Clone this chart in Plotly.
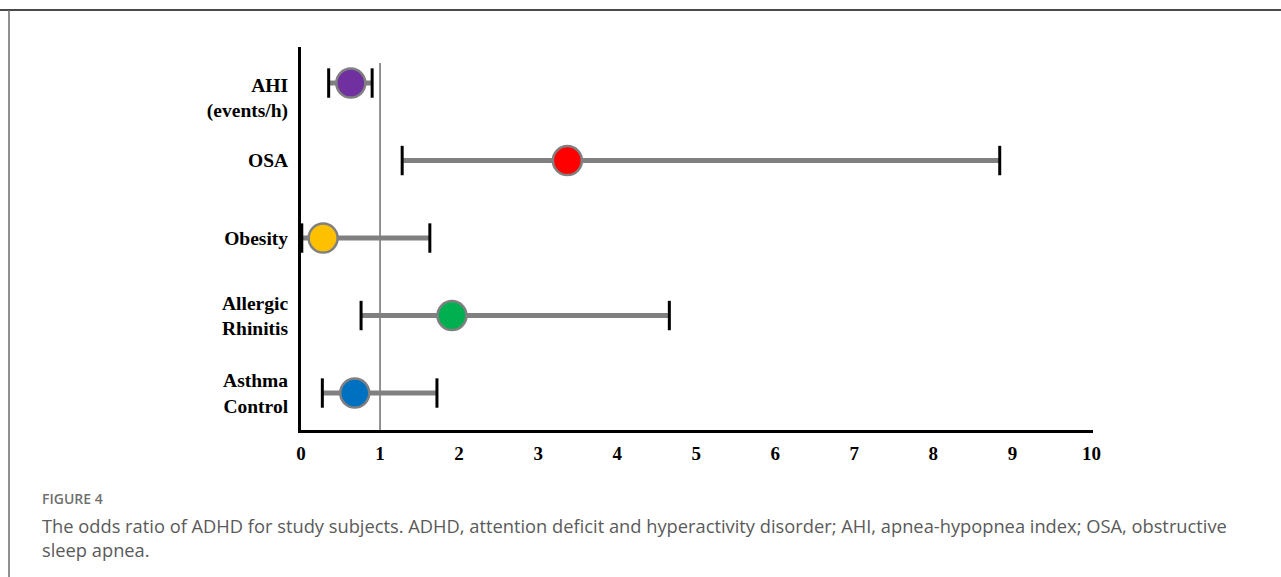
import plotly.graph_objects as go

# ---- data ----
categories = ["Asthma<br>Control", "Allergic<br>Rhinitis", "Obesity", "OSA", "AHI<br>(events/h)"]
odds_ratio = [0.68, 1.91, 0.28, 3.37, 0.63]
ci_lower = [0.27, 0.76, 0.01, 1.28, 0.35]
ci_upper = [1.72, 4.66, 1.63, 8.84, 0.90]
marker_colors = ["#0070C0", "#00B050", "#FFC000", "#FF0000", "#7030A0"]
x_ticks = list(range(0, 11))
reference_or = 1
caption_head = "FIGURE 4"
caption_text = ("The odds ratio of ADHD for study subjects. ADHD, attention deficit and hyperactivity disorder; "
                "AHI, apnea-hypopnea index; OSA, obstructive<br>sleep apnea.")

W, H = 1281, 577
L, R, T, B = 301, 1093, 47, 430
pw, ph = R - L, B - T

def px(xp):
    return (xp - L) / pw

def py(yp):
    return (B - yp) / ph

ypos = list(range(len(categories)))
# label positions (AHI label sits slightly below its point)
label_pos = [p - (0.19 if i == len(categories) - 1 else 0) for i, p in enumerate(ypos)]

fig = go.Figure()

# reference line at OR = 1
fig.add_shape(type="line", xref="x", yref="y", x0=reference_or, x1=reference_or,
              y0=-0.477, y1=4.258, line=dict(color="#6f6f6f", width=1.5), layer="below")

# CI bars
for i in range(len(categories)):
    fig.add_trace(go.Scatter(x=[ci_lower[i], ci_upper[i]], y=[ypos[i], ypos[i]], mode="lines",
                             line=dict(color="#808080", width=5), showlegend=False, hoverinfo="skip"))
# caps
fig.add_trace(go.Scatter(x=ci_lower + ci_upper, y=ypos + ypos, mode="markers",
                         marker=dict(symbol="line-ns", size=21, line=dict(color="black", width=3)),
                         showlegend=False, hoverinfo="skip"))
# points
fig.add_trace(go.Scatter(x=odds_ratio, y=ypos, mode="markers",
                         marker=dict(size=29, color=marker_colors, line=dict(color="#808080", width=2.5)),
                         showlegend=False))

serif = "Liberation Serif, Times New Roman, serif"
fig.update_layout(
    width=W, height=H,
    margin=dict(l=L, r=W - R, t=T, b=H - B),
    paper_bgcolor="white", plot_bgcolor="white",
    xaxis=dict(range=[0, 10.02], tickvals=x_ticks, ticktext=[str(v) for v in x_ticks],
               showgrid=False, zeroline=False, showline=True, linecolor="black", linewidth=3,
               ticks="", tickfont=dict(family=serif, size=19, color="black", weight="bold"),
               ticklabelstandoff=4),
    yaxis=dict(range=[-0.477, 4.465], tickvals=label_pos, ticktext=["<b>%s</b>" % c for c in categories],
               showgrid=False, zeroline=False, showline=True, linecolor="black", linewidth=3,
               ticks="", tickfont=dict(family=serif, size=19.5, color="black"),
               ticklabelstandoff=6),
)

# frame lines
fig.add_shape(type="line", xref="paper", yref="paper", x0=px(0), x1=px(W), y0=py(10), y1=py(10),
              line=dict(color="#4a4a4a", width=2))
fig.add_shape(type="line", xref="paper", yref="paper", x0=px(9), x1=px(9), y0=py(10), y1=py(H + 5),
              line=dict(color="#6a6a6a", width=1.5))

sans = "Open Sans, Noto Sans, sans-serif"
fig.add_annotation(xref="paper", yref="paper", x=px(40), y=py(498), xanchor="left", yanchor="middle",
                   text=caption_head, showarrow=False, font=dict(family=sans, size=14, color="#707070", weight=600))
fig.add_annotation(xref="paper", yref="paper", x=px(40), y=py(511), xanchor="left", yanchor="top",
                   text=caption_text, showarrow=False, align="left",
                   font=dict(family=sans, size=18.3, color="#5a5a5a"))

fig.write_html("out.html")
